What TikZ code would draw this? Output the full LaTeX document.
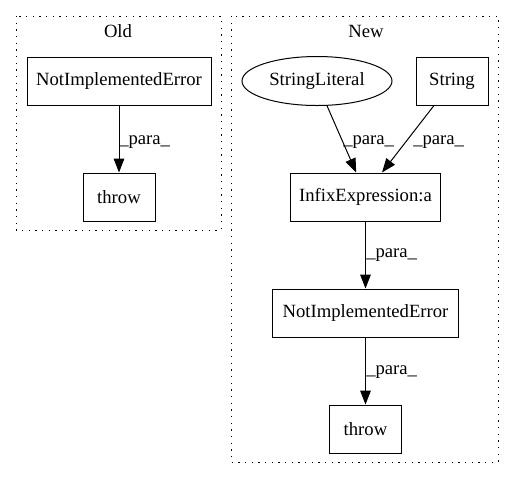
\documentclass[tikz,border=0pt]{standalone}
\usepackage{fontspec}
\setmainfont{Liberation Serif}
\usetikzlibrary{arrows.meta,shapes.geometric}
\begin{document}
\begin{tikzpicture}[x=0.75pt,y=-0.75pt,
  every node/.style={font=\fontsize{14pt}{16pt}\selectfont},
  box/.style={draw, line width=0.75pt, minimum height=36pt, inner sep=0pt},
  oval/.style={draw, ellipse, line width=0.75pt, minimum height=36.75pt, minimum width=112.5pt, inner sep=0pt},
  cluster/.style={draw, line width=0.75pt, dash pattern=on 1pt off 4pt},
  arr/.style={line width=0.75pt, -{Triangle[length=10.5pt,width=8pt]}},
  lbl/.style={anchor=west, inner sep=0pt}]
\useasboundingbox (0,0) rectangle (515,480);
% clusters
\draw[cluster] (16,16) rectangle (221,230);
\draw[cluster] (231,16) rectangle (498,462);
\node (oldtitle) at (118,31) {Old};
\node (newtitle) at (366,31) {New};
% Old
\node[box, minimum width=138pt] (oNIE) at (119,81) {NotImplementedError};
\node[box, minimum width=54pt] (oThrow) at (119,197) {throw};
% New
\node[oval] (SL) at (317,81) {StringLiteral};
\node[box, minimum width=54pt] (S) at (452,81) {String};
\node[box, minimum width=112pt] (Inf) at (365.5,197) {InfixExpression:a};
\node[box, minimum width=139pt] (nNIE) at (365.5,313) {NotImplementedError};
\node[box, minimum width=54pt] (nThrow) at (365.5,429) {throw};
% edges
\draw[arr] (oNIE) -- (oThrow);
\draw[arr] (SL.-68) -- ([xshift=-7pt]Inf.north);
\draw[arr] ([xshift=-13.5pt]S.south) -- ([xshift=12.4pt]Inf.north);
\draw[arr] (Inf) -- (nNIE);
\draw[arr] (nNIE) -- (nThrow);
% labels
\node[lbl] (l1) at (119,142) {\_para\_};
\node[lbl] (l2) at (343,142) {\_para\_};
\node[lbl] (l3) at (413,142) {\_para\_};
\node[lbl] (l4) at (366,255) {\_para\_};
\node[lbl] (l5) at (366,372) {\_para\_};
\end{tikzpicture}
\end{document}
